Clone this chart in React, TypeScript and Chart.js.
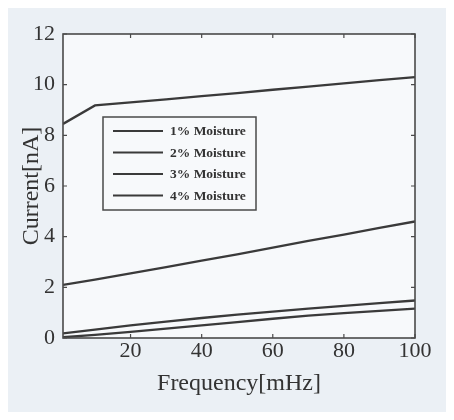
import React, { useEffect, useRef } from "react";
import { Chart, registerables } from "chart.js";

Chart.register(...registerables);

const frequency = [1, 10, 20, 30, 40, 50, 60, 70, 80, 90, 100];
const moisture1 = [0.03, 0.12, 0.24, 0.37, 0.5, 0.63, 0.76, 0.88, 0.98, 1.07, 1.16];
const moisture2 = [0.18, 0.33, 0.5, 0.65, 0.79, 0.92, 1.04, 1.16, 1.27, 1.38, 1.48];
const moisture3 = [2.1, 2.3, 2.55, 2.8, 3.05, 3.3, 3.57, 3.83, 4.08, 4.35, 4.6];
const moisture4 = [8.45, 9.18, 9.3, 9.42, 9.55, 9.67, 9.8, 9.92, 10.05, 10.18, 10.3];
const seriesLabels = ["1% Moisture", "2% Moisture", "3% Moisture", "4% Moisture"];
const xTicks = [20, 40, 60, 80, 100];
const yTicks = [0, 2, 4, 6, 8, 10, 12];

const LINE = "#3a3a3a";
const TEXT = "#333333";
const OUTER = "#ebf0f5";
const FONT = "'Liberation Serif', 'DejaVu Serif', serif";

const framePlugin = {
  id: "frame",
  beforeDraw(chart: any) {
    const { ctx, chartArea: a, width, height } = chart;
    ctx.save();
    ctx.fillStyle = OUTER;
    ctx.fillRect(0, 0, width, height);
    ctx.fillStyle = "#f7f9fb";
    ctx.fillRect(a.left, a.top, a.right - a.left, a.bottom - a.top);
    ctx.restore();
  },
  afterDatasetsDraw(chart: any) {
    const { ctx, chartArea: a, scales } = chart;
    ctx.save();
    ctx.strokeStyle = "#4a4a4a";
    ctx.lineWidth = 1.6;
    ctx.strokeRect(a.left, a.top, a.right - a.left, a.bottom - a.top);
    ctx.lineWidth = 1.2;
    const tl = 4;
    ctx.beginPath();
    xTicks.forEach((v) => {
      const px = scales.x.getPixelForValue(v);
      ctx.moveTo(px, a.bottom);
      ctx.lineTo(px, a.bottom - tl);
      ctx.moveTo(px, a.top);
      ctx.lineTo(px, a.top + tl);
    });
    yTicks.forEach((v) => {
      const py = scales.y.getPixelForValue(v);
      ctx.moveTo(a.left, py);
      ctx.lineTo(a.left + tl, py);
      ctx.moveTo(a.right, py);
      ctx.lineTo(a.right - tl, py);
    });
    ctx.stroke();

    // legend box inside plot
    const bx = a.left + 40;
    const by = a.top + 83;
    const bw = 153;
    const bh = 93;
    ctx.fillStyle = "#f7f9fb";
    ctx.fillRect(bx, by, bw, bh);
    ctx.strokeStyle = "#4a4a4a";
    ctx.lineWidth = 1.5;
    ctx.strokeRect(bx, by, bw, bh);
    ctx.font = "bold 13.5px " + FONT;
    ctx.textBaseline = "middle";
    ctx.textAlign = "left";
    chart.data.datasets.forEach((ds: any, i: number) => {
      const y = by + 14 + i * 21.5;
      ctx.strokeStyle = LINE;
      ctx.lineWidth = 2.2;
      ctx.beginPath();
      ctx.moveTo(bx + 10, y);
      ctx.lineTo(bx + 60, y);
      ctx.stroke();
      ctx.fillStyle = TEXT;
      ctx.fillText(ds.label, bx + 67, y + 1);
    });
    ctx.restore();
  },
};

export default function App() {
  const ref = useRef<HTMLCanvasElement | null>(null);
  useEffect(() => {
    if (!ref.current) return;
    const values = [moisture1, moisture2, moisture3, moisture4];
    const chart = new Chart(ref.current, {
      type: "line",
      data: {
        labels: frequency,
        datasets: values.map((vals, i) => ({
          label: seriesLabels[i],
          data: frequency.map((f, j) => ({ x: f, y: vals[j] })),
          borderColor: LINE,
          borderWidth: 2.3,
          pointRadius: 0,
          fill: false,
          tension: 0,
        })),
      },
      options: {
        animation: false,
        responsive: false,
        maintainAspectRatio: false,
        layout: { padding: { top: 26, right: 39, left: 0, bottom: 0 } },
        plugins: { legend: { display: false }, tooltip: { enabled: false } },
        scales: {
          x: {
            type: "linear",
            min: 1,
            max: 100,
            afterBuildTicks: (s: any) => {
              s.ticks = xTicks.map((v) => ({ value: v }));
            },
            afterFit: (s: any) => {
              s.height = 82;
            },
            grid: { display: false, drawTicks: false },
            border: { display: false },
            ticks: {
              padding: 2,
              color: TEXT,
              font: { family: FONT, size: 22, lineHeight: 1 },
              maxRotation: 0,
            },
            title: {
              display: true,
              text: "Frequency[mHz]",
              color: TEXT,
              font: { family: FONT, size: 24, lineHeight: 1 },
              padding: { top: 0, bottom: 24 },
            },
          },
          y: {
            min: 0,
            max: 12,
            afterBuildTicks: (s: any) => {
              s.ticks = yTicks.map((v) => ({ value: v }));
            },
            afterFit: (s: any) => {
              s.width = 55;
            },
            grid: { display: false, drawTicks: false },
            border: { display: false },
            ticks: {
              padding: 8,
              color: TEXT,
              font: { family: FONT, size: 22, lineHeight: 1 },
            },
            title: {
              display: true,
              text: "Current[nA]",
              color: TEXT,
              font: { family: FONT, size: 24, lineHeight: 1 },
              padding: { top: 12, bottom: 0 },
            },
          },
        },
      },
      plugins: [framePlugin],
    });
    return () => chart.destroy();
  }, []);
  return (
    <div
      style={{
        width: 446,
        height: 412,
        marginRight: -8,
        marginBottom: -8,
        background: OUTER,
        boxShadow: `8px 8px 0 0 ${OUTER}`,
      }}
    >
      <canvas
        ref={ref}
        width={446}
        height={412}
        style={{ display: "block", width: 446, height: 412 }}
      />
    </div>
  );
}
